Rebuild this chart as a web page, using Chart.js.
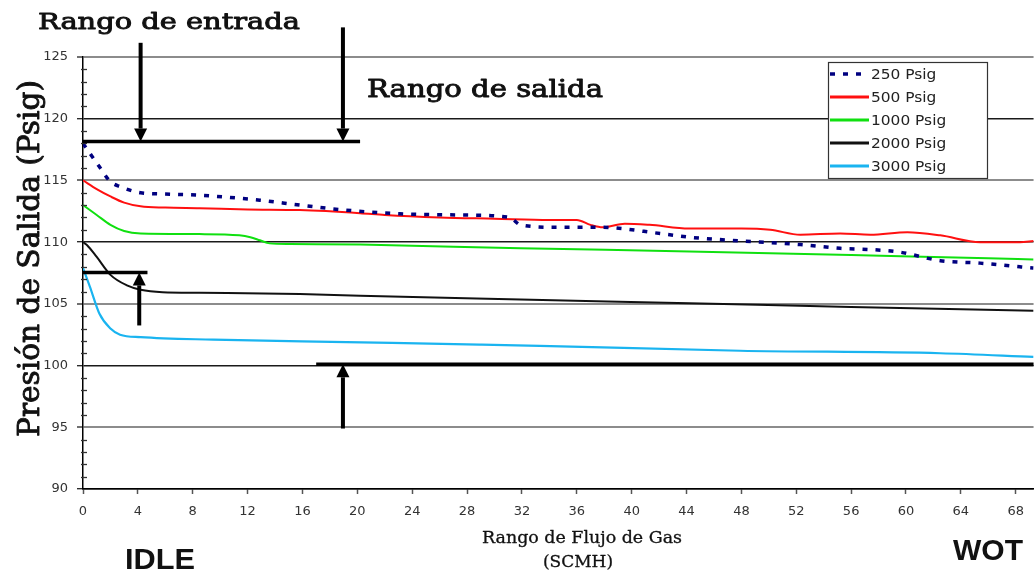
<!DOCTYPE html>
<html>
<head>
<meta charset="utf-8">
<script src="https://cdn.jsdelivr.net/npm/chart.js@4.4.1/dist/chart.umd.min.js"></script>
<style>
  html, body { margin: 0; padding: 0; background: #fff; }
  #wrap { width: 1034px; height: 571px; position: relative; }
</style>
</head>
<body>
<div id="wrap"><canvas id="c" width="1034" height="571"></canvas></div>
<script>
// Gas flow (SCMH) and regulated outlet pressure (psig) for each inlet pressure
const flow250  = [0, 0.5, 1.2, 2, 2.7, 4.2, 6, 8.5, 12.9, 15.8, 19.1, 23.1, 27.5, 31.1, 31.9, 34.8, 37.7, 42.1, 44.2, 47.9, 52.3, 55.2, 57.4, 59.5, 62.5, 65.4, 68.3, 69.3];
const psig250  = [118.0, 117.2, 116.1, 114.9, 114.5, 114.0, 113.9, 113.8, 113.4, 113.0, 112.6, 112.3, 112.2, 112.0, 111.4, 111.2, 111.2, 110.7, 110.4, 110.1, 109.8, 109.5, 109.4, 109.2, 108.5, 108.3, 108.0, 107.9];

const flow500  = [0, 1, 2, 3, 4.2, 6, 8.5, 12, 15.8, 20.2, 22, 26, 30, 34, 36, 37, 37.9, 39.5, 41.3, 44.2, 48, 50.1, 52.3, 55.2, 57.4, 60.1, 62.5, 65.4, 68.3, 69.3];
const psig500  = [115.0, 114.3, 113.7, 113.2, 112.9, 112.8, 112.75, 112.65, 112.6, 112.35, 112.2, 112.0, 111.9, 111.8, 111.8, 111.4, 111.2, 111.5, 111.4, 111.1, 111.1, 111.0, 110.6, 110.7, 110.6, 110.8, 110.55, 110.0, 110.0, 110.1];

const flow1000 = [0, 1, 2, 3, 4.2, 8.5, 11.4, 12.2, 12.9, 13.6, 15.1, 20.2, 31.9, 44.2, 56, 66, 69.3];
const psig1000 = [113.0, 112.2, 111.4, 110.9, 110.7, 110.65, 110.55, 110.4, 110.15, 109.9, 109.85, 109.8, 109.5, 109.25, 108.95, 108.7, 108.6];

const flow2000 = [0, 0.3, 1.0, 2.0, 3.2, 4.2, 5.8, 8.5, 15.8, 20.2, 31.9, 44.2, 56, 69.3];
const psig2000 = [110.0, 109.75, 108.8, 107.35, 106.5, 106.15, 105.95, 105.9, 105.8, 105.65, 105.35, 105.05, 104.75, 104.45];

const flow3000 = [0, 0.5, 1.2, 2.0, 2.7, 4.2, 9.5, 19.2, 28.9, 33.3, 47.9, 62.5, 69.3];
const psig3000 = [107.9, 106.4, 104.2, 103.0, 102.5, 102.3, 102.1, 101.9, 101.7, 101.6, 101.2, 101.0, 100.7];

const seriesNames = ['250 Psig', '500 Psig', '1000 Psig', '2000 Psig', '3000 Psig'];
const xTickValues = [0, 4, 8, 12, 16, 20, 24, 28, 32, 36, 40, 44, 48, 52, 56, 60, 64, 68];
const yTickValues = [90, 95, 100, 105, 110, 115, 120, 125];

// Inlet / outlet range markers, in flow and psig units
const rangeBarFrom = [0, 0, 17.0];
const rangeBarTo   = [20.2, 4.7, 69.3];
const rangeBarAt   = [118.15, 107.55, 100.1];
const arrowFlow    = [4.2, 18.95, 4.1, 18.95];
const arrowFrom    = [126.15, 127.4, 103.25, 94.9];
const arrowTo      = [118.15, 118.15, 107.55, 100.1];

const pts = (xs, ys) => xs.map((x, i) => ({ x: x, y: ys[i] }));

const styles = [
  { color: '#000080', width: 3.5, dash: [5, 8] },
  { color: '#ff1010', width: 2, dash: [] },
  { color: '#10e010', width: 2, dash: [] },
  { color: '#111111', width: 2, dash: [] },
  { color: '#1ab4f0', width: 2.2, dash: [] }
];
const seriesData = [
  pts(flow250, psig250), pts(flow500, psig500), pts(flow1000, psig1000),
  pts(flow2000, psig2000), pts(flow3000, psig3000)
];

const datasets = seriesNames.map((name, i) => ({
  label: name,
  data: seriesData[i],
  borderColor: styles[i].color,
  backgroundColor: styles[i].color,
  borderWidth: styles[i].width,
  borderDash: styles[i].dash,
  pointRadius: 0,
  fill: false,
  cubicInterpolationMode: 'monotone'
}));

// Text squeezed or stretched to a given width, optionally thickened by a stroke
function fitText(ctx, text, x, y, w, font, color, angle, weight) {
  ctx.save();
  ctx.font = font;
  const m = ctx.measureText(text).width;
  ctx.translate(x, y);
  if (angle) ctx.rotate(angle);
  ctx.scale(w / m, 1);
  ctx.fillStyle = color;
  ctx.textAlign = 'left';
  ctx.textBaseline = 'alphabetic';
  ctx.fillText(text, 0, 0);
  if (weight) {
    ctx.strokeStyle = color;
    ctx.lineWidth = weight;
    ctx.lineJoin = 'round';
    ctx.strokeText(text, 0, 0);
  }
  ctx.restore();
}

function drawArrow(ctx, x, y0, y1) {
  const dir = Math.sign(y1 - y0);
  const head = 13, half = 6.5;
  ctx.beginPath();
  ctx.lineWidth = 4;
  ctx.moveTo(x, y0);
  ctx.lineTo(x, y1 - dir * head);
  ctx.stroke();
  ctx.beginPath();
  ctx.moveTo(x, y1);
  ctx.lineTo(x - half, y1 - dir * head);
  ctx.lineTo(x + half, y1 - dir * head);
  ctx.closePath();
  ctx.fill();
}

const decor = {
  id: 'decor',
  beforeDraw(chart) {
    const ctx = chart.ctx;
    ctx.save();
    ctx.fillStyle = '#fff';
    ctx.fillRect(0, 0, chart.width, chart.height);
    ctx.restore();
  },
  afterDatasetsDraw(chart) {
    const ctx = chart.ctx, xs = chart.scales.x, ys = chart.scales.y;
    ctx.save();
    // minor ticks on the pressure axis
    ctx.strokeStyle = '#333';
    ctx.lineWidth = 1.3;
    const ax = chart.chartArea.left;
    for (let v = ys.min + 1; v < ys.max; v++) {
      if (v % 5 === 0) continue;
      const py = Math.round(ys.getPixelForValue(v)) + 0.5;
      ctx.beginPath();
      ctx.moveTo(ax - 2, py);
      ctx.lineTo(ax + 4, py);
      ctx.stroke();
    }
    // range bars
    ctx.strokeStyle = '#000';
    ctx.fillStyle = '#000';
    ctx.lineCap = 'butt';
    rangeBarAt.forEach((v, i) => {
      const py = ys.getPixelForValue(v);
      ctx.beginPath();
      ctx.lineWidth = 3.5;
      ctx.moveTo(xs.getPixelForValue(rangeBarFrom[i]), py);
      ctx.lineTo(xs.getPixelForValue(rangeBarTo[i]), py);
      ctx.stroke();
    });
    // range arrows
    arrowFlow.forEach((f, i) => {
      drawArrow(ctx, xs.getPixelForValue(f), ys.getPixelForValue(arrowFrom[i]), ys.getPixelForValue(arrowTo[i]));
    });
    ctx.restore();
  },
  afterDraw(chart) {
    const ctx = chart.ctx;
    ctx.save();
    // legend box
    const lx = 828, ly = 62, lw = 159, lh = 116;
    ctx.fillStyle = '#fff';
    ctx.fillRect(lx, ly, lw, lh);
    ctx.strokeStyle = '#333';
    ctx.lineWidth = 1.2;
    ctx.strokeRect(lx + 0.5, ly + 0.5, lw, lh);
    chart.data.datasets.forEach((ds, i) => {
      const cy = 74 + i * 23;
      ctx.beginPath();
      ctx.strokeStyle = ds.borderColor;
      ctx.lineWidth = i === 0 ? 3.5 : 3;
      ctx.setLineDash(ds.borderDash || []);
      ctx.moveTo(830, cy);
      ctx.lineTo(869, cy);
      ctx.stroke();
      ctx.setLineDash([]);
      ctx.save();
      ctx.font = '14px "DejaVu Sans"';
      ctx.translate(871, cy + 5);
      ctx.scale(1.1, 1);
      ctx.fillStyle = '#222';
      ctx.fillText(ds.label, 0, 0);
      ctx.restore();
    });
    // annotation and axis titles
    fitText(ctx, 'Rango de entrada', 38, 29, 262, '23px "DejaVu Serif"', '#111', 0, 0.9);
    fitText(ctx, 'Rango de salida', 367, 97, 236, '24px "DejaVu Serif"', '#111', 0, 0.9);
    fitText(ctx, 'Presión de Salida (Psig)', 39, 437, 357, '29px "DejaVu Serif"', '#111', -Math.PI / 2, 0.9);
    fitText(ctx, 'Rango de Flujo de Gas', 482, 543, 200, '16px "DejaVu Serif"', '#111', 0, 0.3);
    fitText(ctx, '(SCMH)', 543, 567, 70, '16px "DejaVu Serif"', '#111', 0, 0.3);
    fitText(ctx, 'IDLE', 125, 569, 70, 'bold 30px "Liberation Sans"', '#111');
    fitText(ctx, 'WOT', 953, 560, 70, 'bold 30px "Liberation Sans"', '#111');
    ctx.restore();
  }
};

new Chart(document.getElementById('c'), {
  type: 'line',
  data: { datasets: datasets },
  plugins: [decor],
  options: {
    responsive: false,
    devicePixelRatio: 1,
    animation: false,
    events: [],
    layout: { padding: { top: 57, left: 0, right: 0, bottom: 0 } },
    plugins: { legend: { display: false }, tooltip: { enabled: false } },
    scales: {
      x: {
        type: 'linear',
        min: 0,
        max: 69.3,
        afterBuildTicks: s => { s.ticks = xTickValues.map(v => ({ value: v })); },
        afterFit: s => { s.height = 82; },
        grid: { drawOnChartArea: false, drawTicks: true, tickLength: 5, tickColor: '#555', tickWidth: 1.5 },
        border: { display: true, color: '#000', width: 1.5 },
        ticks: { font: { family: 'DejaVu Sans', size: 13 }, color: '#333', padding: 10, maxRotation: 0, autoSkip: false }
      },
      y: {
        min: 90,
        max: 125,
        afterBuildTicks: s => { s.ticks = yTickValues.map(v => ({ value: v })); },
        afterFit: s => { s.width = 83; },
        grid: {
          color: c => (c.tick && c.tick.value % 10 === 0) ? '#1a1a1a' : '#8c8c8c',
          lineWidth: c => (c.tick && c.tick.value % 10 === 0) ? 1.4 : 2,
          tickLength: 6,
          tickColor: '#222',
          tickWidth: 1.3
        },
        border: { display: true, color: '#000', width: 1.5 },
        ticks: { font: { family: 'DejaVu Sans', size: 13 }, color: '#333', padding: 9 }
      }
    }
  }
});
</script>
</body>
</html>
